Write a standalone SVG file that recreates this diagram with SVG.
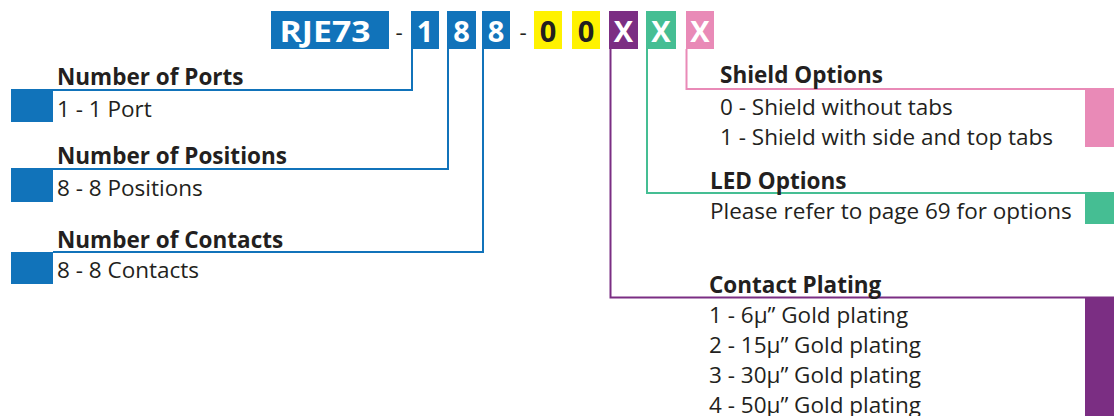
<svg xmlns="http://www.w3.org/2000/svg" width="1114" height="416" viewBox="0 0 1114 416">
<style>
.h{font-family:"Open Sans","Liberation Sans",sans-serif;font-weight:bold;font-size:22.5px;fill:#231f20}
.t{font-family:"Open Sans","Liberation Sans",sans-serif;font-size:22.5px;fill:#231f20}
.c{font-family:"Open Sans","Liberation Sans",sans-serif;font-weight:bold;font-size:29px;text-anchor:middle}
.w{fill:#fff}
.k{fill:#231f20}
.ln{fill:none;stroke-width:2}
</style>
<rect width="1114" height="416" fill="#fff"/>
<g id="code">
<rect x="271" y="11" width="118" height="38" fill="#1173ba"/>
<text class="c w" x="325" y="42" textLength="91" lengthAdjust="spacingAndGlyphs">RJE73</text>
<text class="t" x="399" y="40" text-anchor="middle" font-size="26">-</text>
<rect x="411" y="11" width="28" height="38" fill="#1173ba"/>
<text class="c w" x="425" y="42">1</text>
<rect x="447" y="11" width="29" height="38" fill="#1173ba"/>
<text class="c w" x="461.5" y="42">8</text>
<rect x="482" y="11" width="28" height="38" fill="#1173ba"/>
<text class="c w" x="496" y="42">8</text>
<text class="t" x="523" y="40" text-anchor="middle" font-size="26">-</text>
<rect x="534" y="11" width="28" height="38" fill="#fff200"/>
<text class="c k" x="548" y="42">0</text>
<rect x="572" y="11" width="28" height="38" fill="#fff200"/>
<text class="c k" x="586" y="42">0</text>
<rect x="609" y="11" width="29" height="38" fill="#7b2e83"/>
<text class="c w" x="623.5" y="42">X</text>
<rect x="646" y="11" width="30" height="38" fill="#45be93"/>
<text class="c w" x="661" y="42">X</text>
<rect x="686" y="11" width="28" height="38" fill="#e98ab7"/>
<text class="c w" x="700" y="42">X</text>
</g>
<g id="connectors">
<polyline class="ln" stroke="#1173ba" points="412,49 412,90 53,90"/>
<polyline class="ln" stroke="#1173ba" points="448,49 448,169 53,169"/>
<polyline class="ln" stroke="#1173ba" points="483,49 483,252 53,252"/>
<polyline class="ln" stroke="#e98ab7" points="686.5,49 686.5,89 1114,89"/>
<polyline class="ln" stroke="#45be93" points="647,49 647,193 1114,193"/>
<polyline class="ln" stroke="#7b2e83" points="610.5,49 610.5,297.5 1114,297.5"/>
</g>
<g id="ports">
<rect x="11" y="89" width="42" height="33" fill="#1173ba"/>
<text class="h" x="57" y="85">Number of Ports</text>
<text class="t" x="57" y="117">1 - 1 Port</text>
</g>
<g id="positions">
<rect x="11" y="168" width="42" height="34" fill="#1173ba"/>
<text class="h" x="57" y="164">Number of Positions</text>
<text class="t" x="57" y="196">8 - 8 Positions</text>
</g>
<g id="contacts">
<rect x="11" y="252" width="42" height="32" fill="#1173ba"/>
<text class="h" x="57" y="248">Number of Contacts</text>
<text class="t" x="57" y="278">8 - 8 Contacts</text>
</g>
<g id="shield">
<rect x="1085" y="89" width="29" height="58" fill="#e98ab7"/>
<text class="h" x="720" y="83">Shield Options</text>
<text class="t" x="720" y="115">0 - Shield without tabs</text>
<text class="t" x="720" y="145">1 - Shield with side and top tabs</text>
</g>
<g id="led">
<rect x="1085" y="193" width="29" height="31" fill="#45be93"/>
<text class="h" x="710" y="189">LED Options</text>
<text class="t" x="710" y="219">Please refer to page 69 for options</text>
</g>
<g id="plating">
<rect x="1085" y="298" width="29" height="118" fill="#7b2e83"/>
<text class="h" x="709" y="293">Contact Plating</text>
<text class="t" x="709" y="323">1 - 6μ” Gold plating</text>
<text class="t" x="709" y="353">2 - 15μ” Gold plating</text>
<text class="t" x="709" y="383">3 - 30μ” Gold plating</text>
<text class="t" x="709" y="413">4 - 50μ” Gold plating</text>
</g>
</svg>
